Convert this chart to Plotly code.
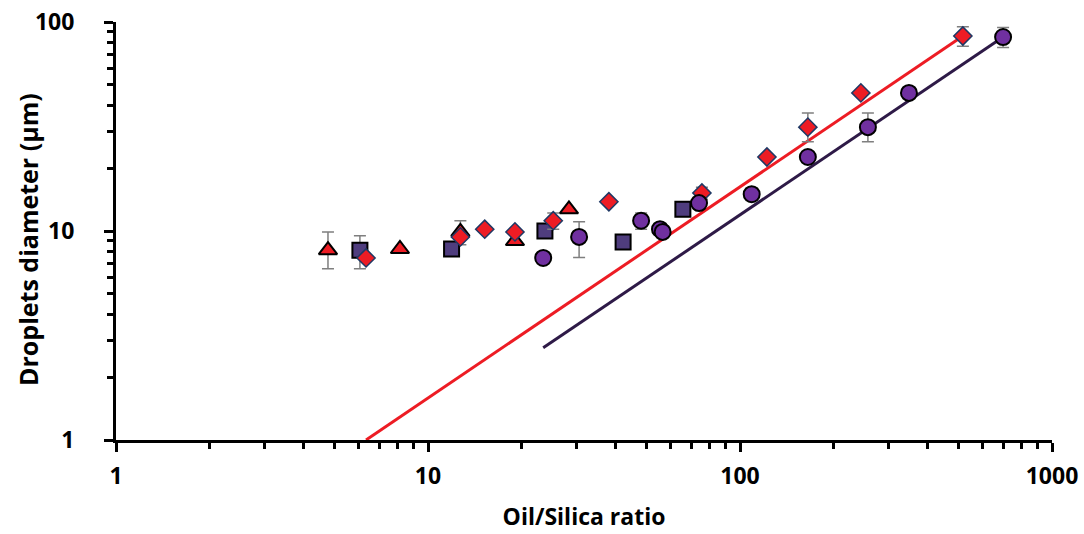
import plotly.graph_objects as go

# ---- data ----
tri_x = [4.78, 8.13, 12.7, 19.0, 28.3]
tri_y = [8.1, 8.2, 9.9, 8.95, 12.7]
tri_err_plus = [1.8, None, 1.3, None, None]
tri_err_minus = [1.5, None, 1.3, None, None]

sq_x = [6.05, 11.9, 23.7, 42.2, 65.6]
sq_y = [8.1, 8.2, 10.0, 8.85, 12.7]
sq_err_plus = [1.4, None, None, None, None]
sq_err_minus = [1.5, None, None, None, None]

dia_x = [6.33, 12.7, 15.2, 19.0, 25.2, 38.0, 75.5, 122, 165, 244, 518]
dia_y = [7.43, 9.37, 10.2, 9.9, 11.2, 13.8, 15.2, 22.6, 31.4, 45.8, 85.7]
dia_err_plus = [None, None, None, None, 1.0, None, 1.0, None, 5.3, None, 9.3]
dia_err_minus = [None, None, None, None, 1.0, None, 1.0, None, 4.7, None, 9.2]

cir_x = [23.4, 30.5, 48.2, 55.4, 56.5, 73.9, 109, 165, 257, 348, 697]
cir_y = [7.43, 9.37, 11.2, 10.2, 9.9, 13.6, 15.0, 22.6, 31.4, 45.8, 84.7]
cir_err_plus = [None, 1.7, 1.0, None, None, None, 1.0, None, 5.3, None, 9.3]
cir_err_minus = [None, 1.9, 1.0, None, None, None, 1.0, None, 4.7, None, 9.2]

red_fit_x = [6.33, 518]
red_fit_y = [1.0, 85.7]
dark_fit_x = [23.4, 697]
dark_fit_y = [2.76, 84.7]

major_ticks = [1, 10, 100, 1000]
x_minor = [2, 3, 4, 5, 6, 7, 8, 9, 20, 30, 40, 50, 60, 70, 80, 90, 200, 300, 400, 500, 600, 700, 800, 900]
y_minor = [2, 3, 4, 5, 6, 7, 8, 9, 20, 30, 40, 50, 60, 70, 80, 90]

x_title = "Oil/Silica ratio"
y_title = "Droplets diameter (μm)"

FONT = "Open Sans"
ERR_COLOR = "#7f7f7f"

def err(plus, minus):
    return dict(type="data", symmetric=False, array=plus, arrayminus=minus,
                color=ERR_COLOR, thickness=1.5, width=6)

fig = go.Figure()

fig.add_trace(go.Scatter(x=red_fit_x, y=red_fit_y, mode="lines",
                         line=dict(color="#ED1C24", width=3), showlegend=False))
fig.add_trace(go.Scatter(x=dark_fit_x, y=dark_fit_y, mode="lines",
                         line=dict(color="#2E1A47", width=3), showlegend=False))

fig.add_trace(go.Scatter(x=tri_x, y=tri_y, mode="markers",
                         marker=dict(symbol="triangle-up", size=16, color="#ED1C24",
                                     line=dict(color="#000000", width=2)),
                         error_y=err(tri_err_plus, tri_err_minus), showlegend=False))
fig.add_trace(go.Scatter(x=sq_x, y=sq_y, mode="markers",
                         marker=dict(symbol="square", size=15, color="#4F3D7E",
                                     line=dict(color="#000000", width=2)),
                         error_y=err(sq_err_plus, sq_err_minus), showlegend=False))
fig.add_trace(go.Scatter(x=dia_x, y=dia_y, mode="markers",
                         marker=dict(symbol="diamond", size=14, color="#ED1C24",
                                     line=dict(color="#1F3864", width=1.5)),
                         error_y=err(dia_err_plus, dia_err_minus), showlegend=False))
fig.add_trace(go.Scatter(x=cir_x, y=cir_y, mode="markers",
                         marker=dict(symbol="circle", size=16, color="#7030A0",
                                     line=dict(color="#000000", width=2)),
                         error_y=err(cir_err_plus, cir_err_minus), showlegend=False))

axis_common = dict(
    type="log", showgrid=False, zeroline=False, automargin=False,
    showline=True, linecolor="#000000", linewidth=3,
    ticks="outside", ticklen=9, tickwidth=3, tickcolor="#000000",
    tickfont=dict(family=FONT, size=23, color="#000000", weight="bold"),
    mirror=False,
)

fig.update_xaxes(**axis_common, range=[0, 3], tickvals=major_ticks,
                 ticktext=[str(v) for v in major_ticks], ticklabelstandoff=4,
                 minor=dict(tickvals=x_minor, ticks="outside", ticklen=6, tickwidth=3,
                            tickcolor="#000000", showgrid=False),
                 title=dict(text=x_title, standoff=20,
                            font=dict(family=FONT, size=23, color="#000000", weight="bold")))
fig.update_yaxes(**axis_common, range=[0, 2], tickvals=major_ticks[:3],
                 ticktext=[str(v) for v in major_ticks[:3]], ticklabelstandoff=25,
                 minor=dict(tickvals=y_minor, ticks="outside", ticklen=6, tickwidth=3,
                            tickcolor="#000000", showgrid=False))

fig.add_annotation(text=y_title, xref="paper", yref="paper", x=0, y=0.5,
                   xshift=-88, yshift=-9, xanchor="center", yanchor="middle",
                   textangle=-90, showarrow=False,
                   font=dict(family=FONT, size=25, color="#000000", weight="bold"))

fig.update_layout(
    width=1084, height=534,
    margin=dict(l=116, r=32, t=22, b=94),
    plot_bgcolor="#ffffff", paper_bgcolor="#ffffff",
)

fig.write_html("out.html", config={"displayModeBar": False},
               post_script="document.body.style.margin='0';")
